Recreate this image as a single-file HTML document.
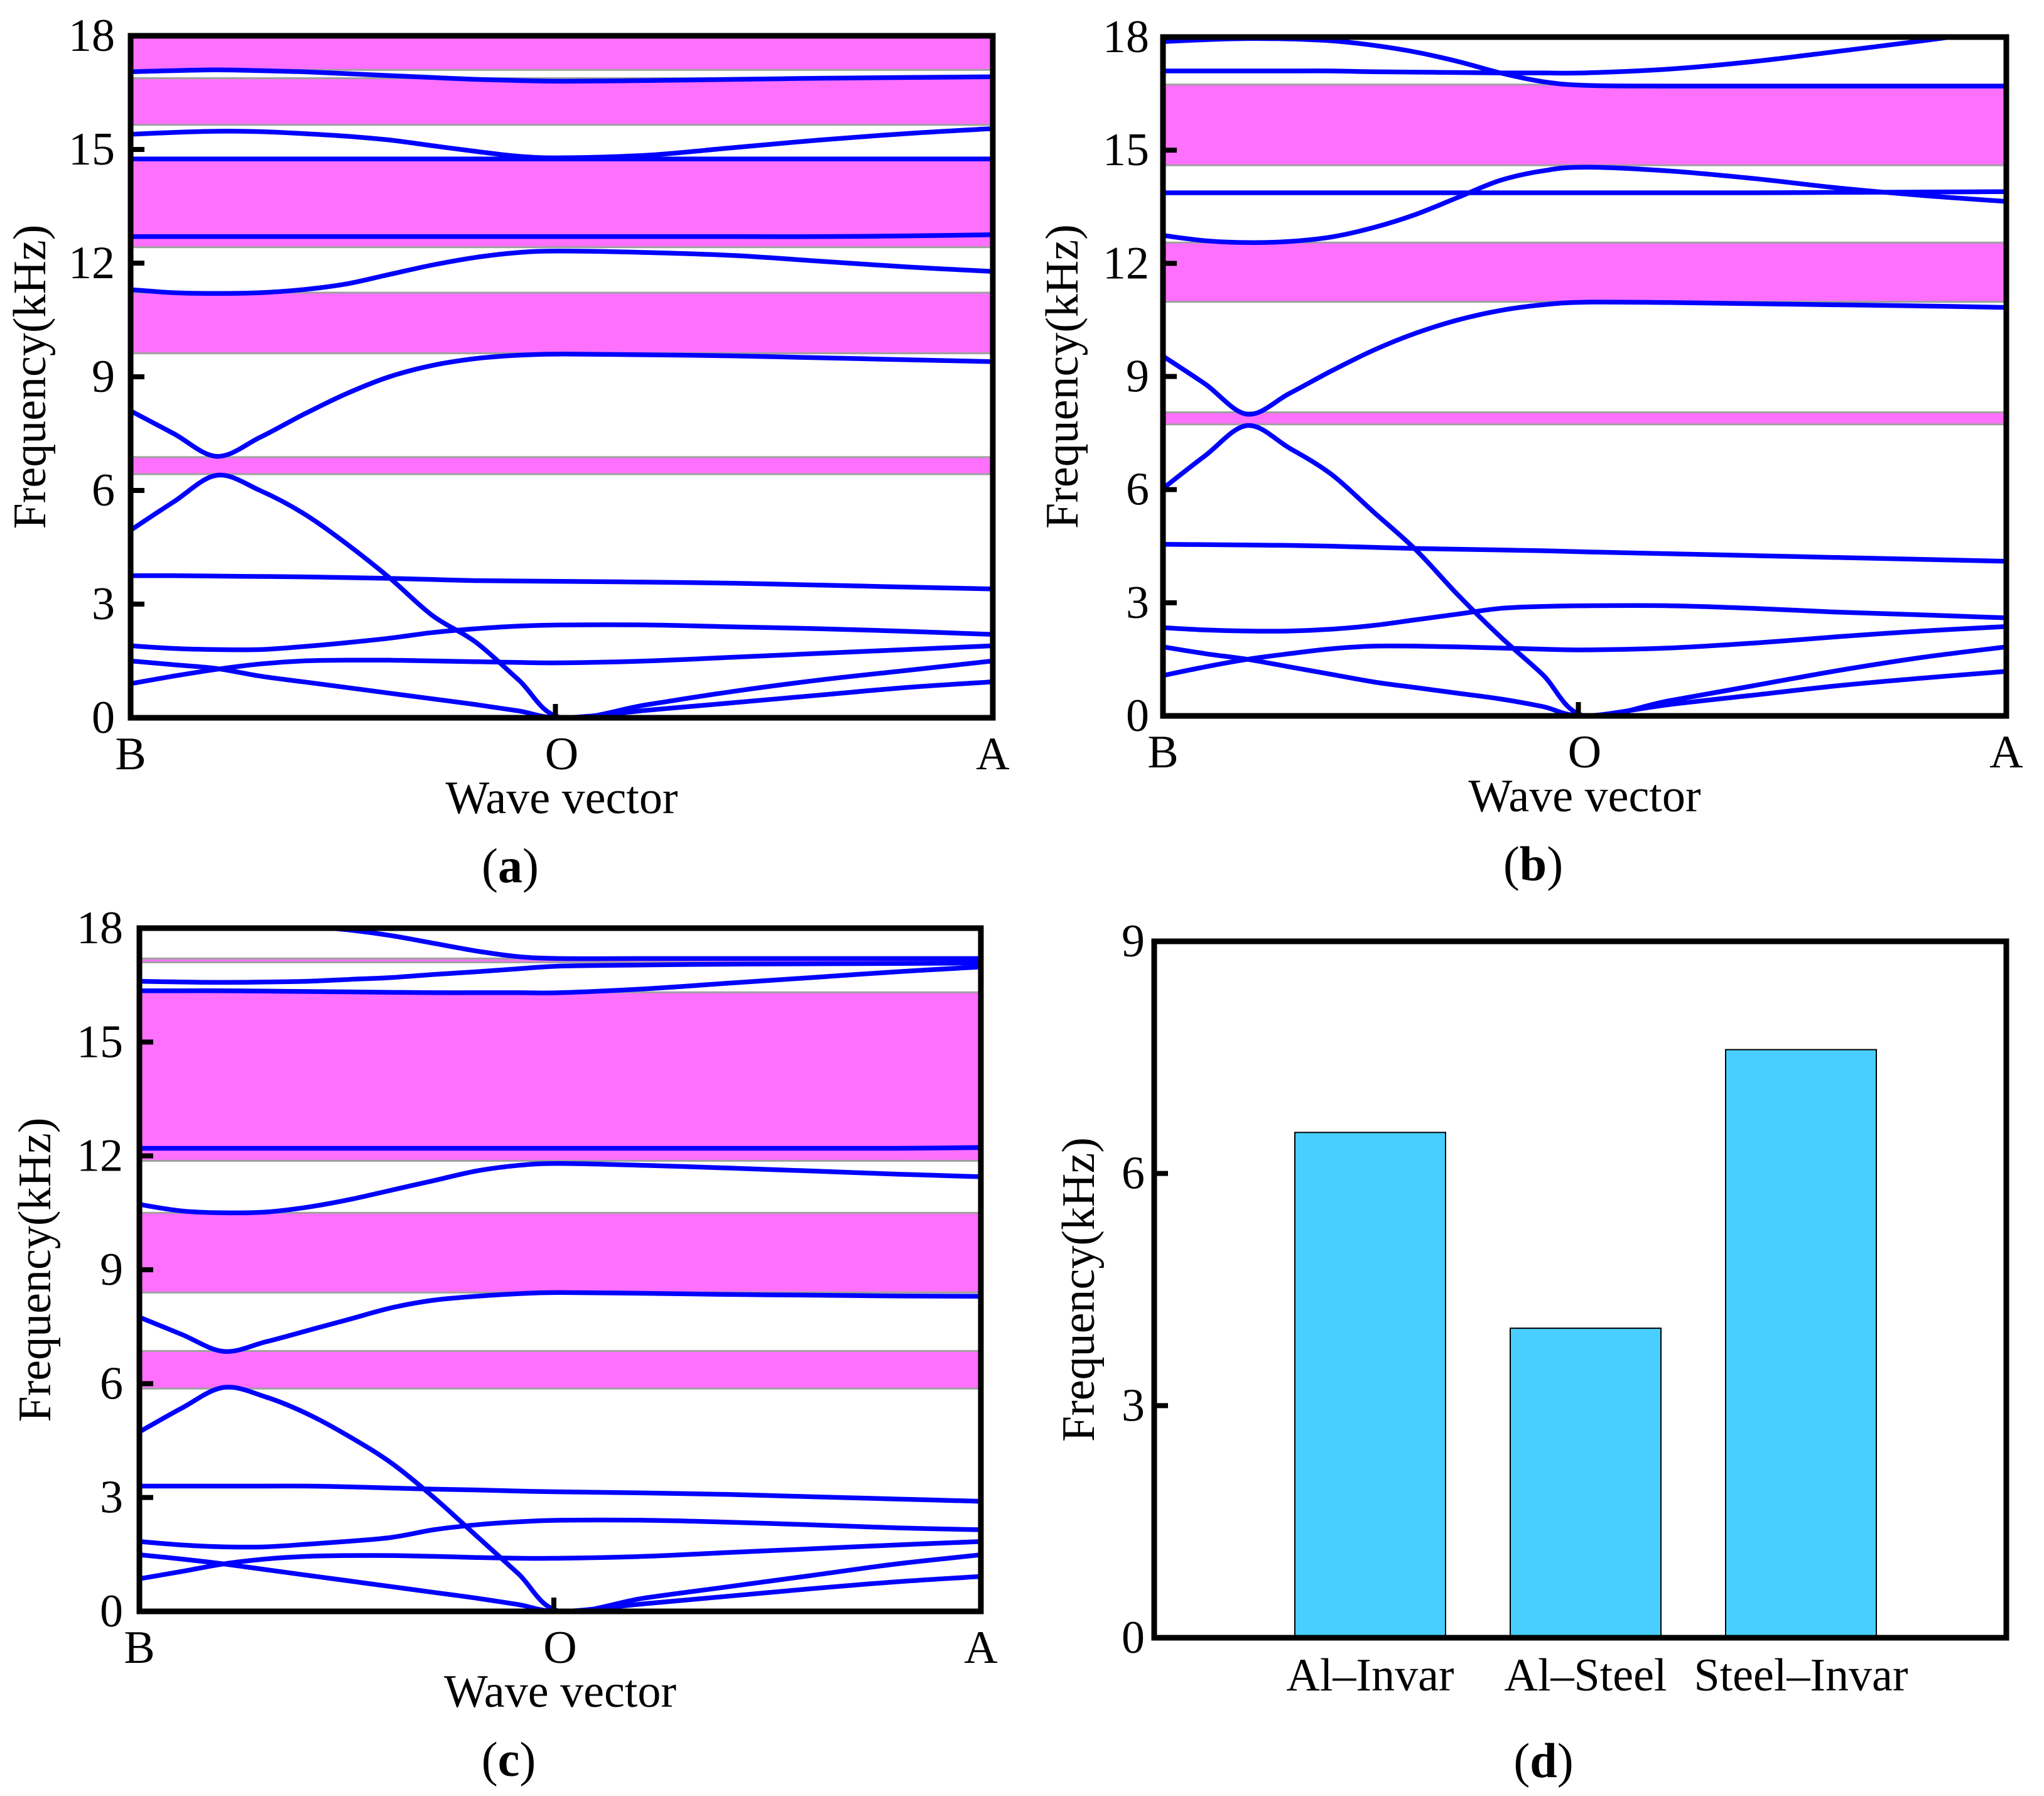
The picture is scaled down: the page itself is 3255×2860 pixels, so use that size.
<!DOCTYPE html>
<html><head><meta charset="utf-8"><style>
html,body{margin:0;padding:0;background:#fff;}
svg{display:block;font-family:"Liberation Serif",serif;}
</style></head><body>
<svg id="fig" width="3255" height="2860" viewBox="0 0 3255 2860" xmlns="http://www.w3.org/2000/svg"></svg>
<script>
// shared x positions (fraction of B->O->A path)
const tGrid = [0,0.05,0.1,0.15,0.2,0.25,0.3,0.35,0.4,0.45,0.5,0.6,0.7,0.8,0.9,1];
const yTicks = [0,3,6,9,12,15,18];
const xTickLabels = ["B","O","A"];

// panel (a) band gaps (kHz)
const aBandLo = [17.1,15.65,12.42,9.62,6.43];
const aBandHi = [18,16.88,14.72,11.22,6.88];
// panel (a) branches
const aB1 = [1.5,1.4,1.3,1.1,0.95,0.8,0.65,0.5,0.35,0.18,0,0.2,0.4,0.6,0.8,0.95];
const aB2 = [0.9,1.1,1.28,1.42,1.5,1.52,1.52,1.5,1.48,1.46,1.45,1.5,1.6,1.7,1.8,1.9];
const aB3 = [4.95,5.7,6.4,6.0,5.4,4.6,3.7,2.7,2.0,1.0,0,0.35,0.7,1.0,1.25,1.5];
const aB4 = [1.9,1.83,1.8,1.8,1.88,1.98,2.1,2.25,2.35,2.42,2.45,2.45,2.4,2.35,2.28,2.2];
const aB5 = [3.75,3.75,3.74,3.73,3.72,3.7,3.68,3.65,3.62,3.61,3.6,3.58,3.55,3.5,3.45,3.4];
const aB6 = [8.1,7.5,6.9,7.4,8.0,8.55,9.0,9.3,9.48,9.57,9.6,9.58,9.55,9.5,9.45,9.4];
const aB7 = [11.3,11.22,11.2,11.22,11.3,11.45,11.7,11.95,12.15,12.28,12.32,12.28,12.2,12.05,11.9,11.78];
const aB8 = [12.7,12.7,12.7,12.7,12.7,12.7,12.7,12.7,12.7,12.7,12.7,12.7,12.7,12.7,12.72,12.75];
const aB9 = [14.75,14.75,14.75,14.75,14.75,14.75,14.75,14.75,14.75,14.75,14.75,14.75,14.75,14.75,14.75,14.75];
const aB10 = [15.4,15.45,15.48,15.47,15.42,15.35,15.25,15.1,14.95,14.82,14.78,14.85,15.05,15.25,15.42,15.55];
const aB11 = [17.05,17.08,17.1,17.08,17.05,17.0,16.95,16.9,16.85,16.82,16.8,16.82,16.85,16.88,16.9,16.92];
const aSeries = [aB1,aB2,aB3,aB4,aB5,aB6,aB7,aB8,aB9,aB10,aB11];

// panel (b)
const bBandLo = [14.6,10.98,7.73];
const bBandHi = [16.74,12.55,8.05];
const bB1 = [1.83,1.65,1.5,1.3,1.1,0.9,0.75,0.6,0.45,0.25,0,0.3,0.55,0.8,1.0,1.18];
const bB2 = [1.07,1.3,1.5,1.65,1.78,1.85,1.85,1.83,1.8,1.77,1.75,1.8,1.93,2.1,2.25,2.37];
const bB3 = [6.03,6.9,7.7,7.1,6.4,5.4,4.4,3.2,2.1,1.1,0,0.4,0.8,1.2,1.55,1.83];
const bB4 = [2.34,2.28,2.25,2.25,2.3,2.4,2.55,2.7,2.85,2.9,2.92,2.92,2.85,2.75,2.68,2.6];
const bB5 = [4.55,4.54,4.53,4.52,4.5,4.47,4.44,4.42,4.4,4.38,4.35,4.3,4.25,4.2,4.15,4.1];
const bB6 = [9.54,8.8,8.0,8.55,9.15,9.7,10.15,10.5,10.75,10.9,10.97,10.96,10.93,10.9,10.87,10.83];
const bB7 = [12.74,12.6,12.55,12.58,12.7,12.95,13.3,13.75,14.2,14.45,14.55,14.45,14.25,14.0,13.8,13.64];
const bB8 = [13.87,13.87,13.87,13.87,13.87,13.87,13.87,13.87,13.87,13.87,13.87,13.87,13.87,13.88,13.89,13.9];
const bB9 = [17.88,17.93,17.96,17.95,17.9,17.78,17.6,17.35,17.05,16.82,16.72,16.7,16.7,16.7,16.7,16.7];
const bB10 = [17.1,17.1,17.1,17.1,17.1,17.08,17.07,17.06,17.05,17.05,17.05,17.15,17.35,17.62,17.9,18.2];
const bSeries = [bB1,bB2,bB3,bB4,bB5,bB6,bB7,bB8,bB9,bB10];

// panel (c)
const cBandLo = [17.1,11.87,8.4,5.87];
const cBandHi = [17.2,16.31,10.5,6.86];
const cB1 = [1.49,1.38,1.25,1.1,0.95,0.8,0.65,0.5,0.35,0.18,0,0.2,0.4,0.6,0.78,0.92];
const cB2 = [0.86,1.05,1.25,1.38,1.45,1.47,1.47,1.45,1.42,1.4,1.4,1.45,1.55,1.65,1.75,1.84];
const cB3 = [4.73,5.35,5.9,5.65,5.2,4.6,3.9,3.0,2.0,1.0,0,0.35,0.65,0.95,1.25,1.49];
const cB4 = [1.84,1.75,1.7,1.7,1.77,1.85,1.95,2.15,2.28,2.36,2.4,2.4,2.35,2.28,2.2,2.15];
const cB5 = [3.3,3.3,3.3,3.3,3.3,3.28,3.25,3.22,3.2,3.17,3.15,3.12,3.08,3.02,2.96,2.9];
const cB6 = [7.75,7.3,6.85,7.1,7.4,7.7,8.0,8.2,8.3,8.37,8.4,8.38,8.35,8.33,8.31,8.3];
const cB7 = [10.72,10.55,10.5,10.52,10.65,10.85,11.1,11.35,11.6,11.75,11.8,11.75,11.68,11.6,11.52,11.45];
const cB8 = [12.2,12.2,12.2,12.2,12.2,12.2,12.2,12.2,12.2,12.2,12.2,12.2,12.2,12.2,12.2,12.22];
const cB9 = [16.35,16.35,16.35,16.34,16.33,16.32,16.31,16.3,16.3,16.3,16.3,16.4,16.55,16.7,16.85,16.98];
const cB10 = [16.6,16.58,16.57,16.58,16.6,16.65,16.7,16.78,16.85,16.93,17.0,17.03,17.05,17.06,17.07,17.08];
const cB11 = [18.4,18.3,18.2,18.15,18.05,17.95,17.8,17.6,17.4,17.25,17.2,17.2,17.2,17.2,17.2,17.2];
const cSeries = [cB1,cB2,cB3,cB4,cB5,cB6,cB7,cB8,cB9,cB10,cB11];

// panel (d)
const dCategories = ["Al\u2013Invar","Al\u2013Steel","Steel\u2013Invar"];
const dValues = [6.53,4.0,7.6];
const dTicks = [0,3,6,9];

const NS = "http://www.w3.org/2000/svg";
const svg = document.getElementById("fig");
function mk(tag, attrs, parent){
  const e = document.createElementNS(NS, tag);
  for (const k in attrs) e.setAttribute(k, attrs[k]);
  (parent||svg).appendChild(e);
  return e;
}
function txt(s, x, y, size, anchor, parent, extra){
  const e = mk("text", Object.assign({x:x,y:y,"font-size":size,"text-anchor":anchor||"middle",fill:"#000"}, extra||{}), parent);
  e.textContent = s;
  return e;
}
function smoothPath(pts){
  let d = "M" + pts[0][0].toFixed(1) + "," + pts[0][1].toFixed(1);
  for (let i=0;i<pts.length-1;i++){
    const p0 = pts[Math.max(i-1,0)], p1 = pts[i], p2 = pts[i+1], p3 = pts[Math.min(i+2,pts.length-1)];
    const c1x = p1[0] + (p2[0]-p0[0])/6, c1y = p1[1] + (p2[1]-p0[1])/6;
    const c2x = p2[0] - (p3[0]-p1[0])/6, c2y = p2[1] - (p3[1]-p1[1])/6;
    d += " C" + c1x.toFixed(1)+","+c1y.toFixed(1)+" "+c2x.toFixed(1)+","+c2y.toFixed(1)+" "+p2[0].toFixed(1)+","+p2[1].toFixed(1);
  }
  return d;
}

function bandPanel(id, L, R, T, B, bandLo, bandHi, series, labelX, titleX, letter){
  const g = mk("g", {});
  
  
  const xs = t => L + t*(R-L);
  const ys = f => B - f/18*(B-T);
  const clipId = "clip" + id;
  const cp = mk("clipPath", {id:clipId}, g);
  mk("rect", {x:L, y:T, width:R-L, height:B-T}, cp);
  for (let i=0;i<bandLo.length;i++){
    const r = mk("rect", {x:L, y:ys(bandHi[i]), width:R-L, height:ys(bandLo[i])-ys(bandHi[i]), fill:"#ff70ff", stroke:"#a0a0a0", "stroke-width":3}, g);
    
    
  }
  const lg = mk("g", {"clip-path":"url(#"+clipId+")"}, g);
  series.forEach((s, k) => {
    const pts = tGrid.map((t,i) => [xs(t), ys(s[i])]);
    const p = mk("path", {d:smoothPath(pts), fill:"none", stroke:"#0000ff", "stroke-width":7.5, "stroke-linejoin":"round"}, lg);
    
    
  });
  const fr = mk("rect", {x:L, y:T, width:R-L, height:B-T, fill:"none", stroke:"#000", "stroke-width":9}, g);
  
  
  yTicks.forEach(v => {
    if (v>0 && v<18) mk("line", {x1:L, x2:L+22, y1:ys(v), y2:ys(v), stroke:"#000", "stroke-width":8}, g);
    const t = txt(String(v), labelX, ys(v)+24, 74, "end", g);
    
    
  });
  mk("line", {x1:xs(0.5)-10, x2:xs(0.5)-10, y1:B, y2:B-22, stroke:"#000", "stroke-width":8}, g);
  xTickLabels.forEach((s,i) => {
    const t = txt(s, xs(i/2), B+82, 74, "middle", g);
    
    
  });
  const xt = txt("Wave vector", (L+R)/2, B+152, 74, "middle", g);
  
  
  const yt = txt("Frequency(kHz)", 0, 0, 74, "middle", g, {transform:"translate("+titleX+","+((T+B)/2)+") rotate(-90)"});
  
  
  const cap = mk("text", {x:(L+R)/2 - 82, y:B+262, "font-size":78, "text-anchor":"middle"}, g);
  cap.innerHTML = '(<tspan font-weight="bold">'+letter+'</tspan>)';
  
  
}

bandPanel("a", 208, 1581, 57, 1143, aBandLo, aBandHi, aSeries, 183, 72, "a");
bandPanel("b", 1852, 3195, 59, 1140, bBandLo, bBandHi, bSeries, 1830, 1716, "b");
bandPanel("c", 222, 1562, 1478, 2566, cBandLo, cBandHi, cSeries, 196, 80, "c");

// panel d bar chart
(function(){
  const L=1838, R=3195, T=1499, B=2608;
  const g = mk("g", {});
  
  
  const ys = v => B - v/9*(B-T);
  const slot = (R-L)/4.15;
  const bw = 240;
  dValues.forEach((v,i) => {
    const cx = 2182 + i*343;
    const r = mk("rect", {x:cx-bw/2, y:ys(v), width:bw, height:B-ys(v), fill:"#48cfff", stroke:"#000", "stroke-width":2}, g);
    
    
    const t = txt(dCategories[i], cx, B+84, 74, "middle", g);
    
    
  });
  const fr = mk("rect", {x:L, y:T, width:R-L, height:B-T, fill:"none", stroke:"#000", "stroke-width":9}, g);
  
  
  dTicks.forEach(v => {
    if (v>0 && v<9) mk("line", {x1:L, x2:L+22, y1:ys(v), y2:ys(v), stroke:"#000", "stroke-width":8}, g);
    const t = txt(String(v), 1823, ys(v)+24, 74, "end", g);
    
    
  });
  const yt = txt("Frequency(kHz)", 0, 0, 74, "middle", g, {transform:"translate(1742,"+((T+B)/2)+") rotate(-90)"});
  
  
  const cap = mk("text", {x:2458, y:2830, "font-size":78, "text-anchor":"middle"}, g);
  cap.innerHTML = '(<tspan font-weight="bold">d</tspan>)';
  
  
})();
</script>
</body></html>
